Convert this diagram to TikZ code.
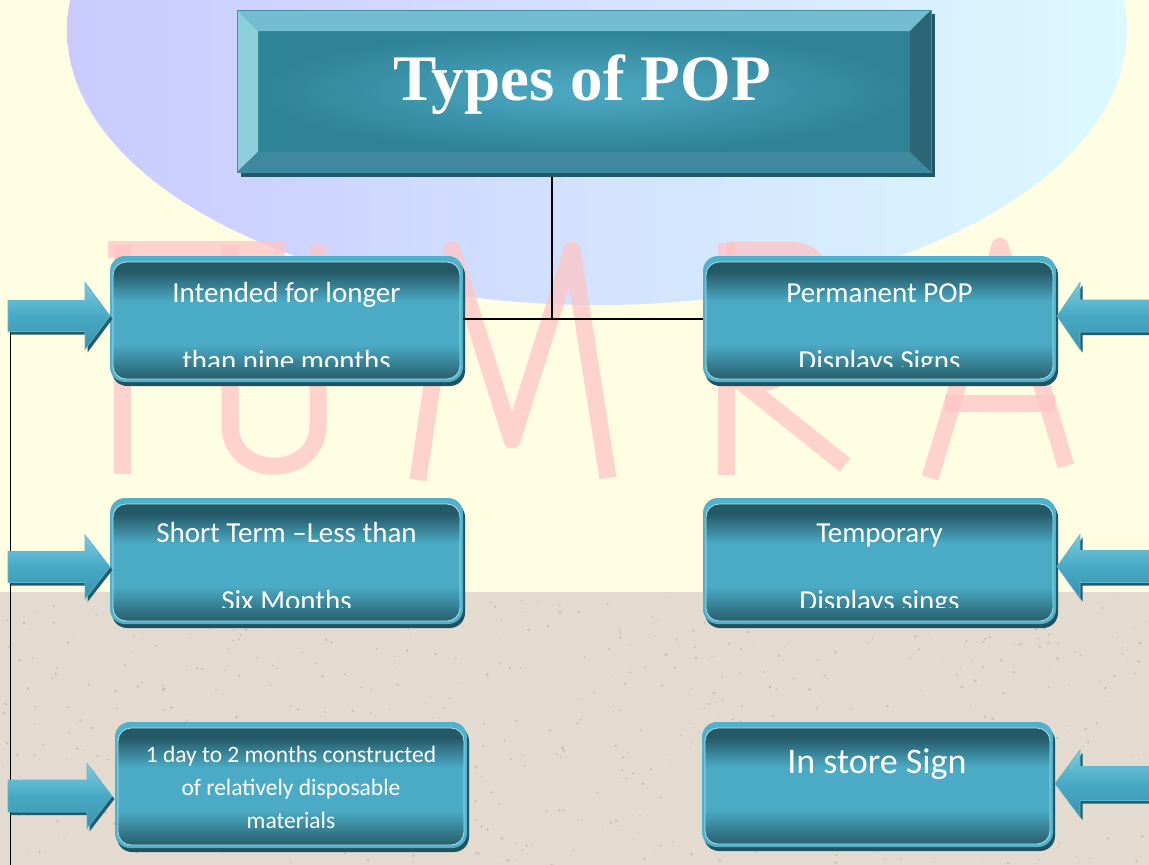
\documentclass[tikz,border=0pt]{standalone}
\usepackage{fontspec}
\setmainfont{Carlito}
\newfontfamily\titlefont{Liberation Serif}
\definecolor{bgyellow}{HTML}{FFFDE2}
\definecolor{bgbeige}{HTML}{E3DBCF}
\definecolor{speck}{HTML}{9C9282}
\definecolor{globeL}{HTML}{CACAFF}
\definecolor{globeM}{HTML}{D2E2FF}
\definecolor{globeR}{HTML}{DCF9FF}
\definecolor{wmpink}{HTML}{FFC4C4}
\definecolor{ring}{HTML}{4FB2CC}
\definecolor{ringhi}{HTML}{B5E1EC}
\definecolor{boxshadow}{HTML}{1F5361}
\definecolor{bdark}{HTML}{245967}
\definecolor{bmid}{HTML}{4BABC6}
\definecolor{bdarkb}{HTML}{285F6D}
\definecolor{arrtop}{HTML}{7CCBE0}
\definecolor{arrmid}{HTML}{48A9C4}
\definecolor{arrbot}{HTML}{3A92AB}
\definecolor{arredge}{HTML}{5CB8CF}
\definecolor{arrshadow}{HTML}{245D6C}
\definecolor{tface}{HTML}{4DAAC4}
\definecolor{tfaceout}{HTML}{2F8397}
\definecolor{tbtop}{HTML}{72BDD2}
\definecolor{tbleft}{HTML}{8ECFDC}
\definecolor{tbright}{HTML}{2C6676}
\definecolor{tbbot}{HTML}{3F899E}
\definecolor{tshadow}{HTML}{215766}
\definecolor{tedge}{HTML}{3E8FA6}
\pgfdeclareverticalshading{popbody}{100bp}{color(0bp)=(bdarkb); color(25bp)=(bdarkb); color(40bp)=(bmid); color(58bp)=(bmid); color(71bp)=(bdark); color(75bp)=(bdark); color(100bp)=(bdark)}
\tikzset{
  ringbox/.style={rectangle, rounded corners=15pt, fill=ring, inner sep=0pt, outer sep=0pt},
  boxtext/.style={text=white, font=\fontsize{29}{34}\selectfont, inner sep=0pt, anchor=base},
  smalltext/.style={text=white, font=\fontsize{23.5}{28}\selectfont, inner sep=0pt, anchor=base},
  bigtext/.style={text=white, font=\fontsize{36}{40}\selectfont, inner sep=0pt, anchor=base},
  titletext/.style={text=white, font=\titlefont\bfseries\fontsize{65}{70}\selectfont, inner sep=0pt, anchor=base},
  arrowbody/.style={top color=arrtop, bottom color=arrbot, middle color=arrmid, draw=arredge, line width=0.6pt},
  wm/.style={draw=wmpink, line width=17pt, opacity=0.75},
  conn/.style={draw=black, line width=1.6pt},
}
\newcommand\popbox[5]{%
  \fill[boxshadow, rounded corners=15pt] (#2+2,#3+4) rectangle (#4+2,#5+4);
  \node[ringbox, minimum width={(#4)-(#2)}, minimum height={(#5)-(#3)}] (#1) at ({((#2)+(#4))/2},{((#3)+(#5))/2}) {};
  \shade[shading=popbody, draw=ringhi, line width=0.8pt, rounded corners=13pt] (#2+3,#3+6) rectangle (#4-3,#5-3);
}
\newcommand\blockarrow[6]{%
  \fill[arrshadow, shift={(2.5,3)}] (#1,#4-#5) -- (#2,#4-#5) -- (#2,#4-#6) -- (#3,#4) -- (#2,#4+#6) -- (#2,#4+#5) -- (#1,#4+#5) -- cycle;
  \shade[arrowbody] (#1,#4-#5) -- (#2,#4-#5) -- (#2,#4-#6) -- (#3,#4) -- (#2,#4+#6) -- (#2,#4+#5) -- (#1,#4+#5) -- cycle;
}
\begin{document}
\begin{tikzpicture}[x=1pt,y=-1pt]
\useasboundingbox (0,0) rectangle (1149,865);
\clip (0,0) rectangle (1149,865);
% background
\fill[bgyellow] (0,0) rectangle (1149,865);
\shade[left color=globeL, right color=globeR, middle color=globeM] (597,30) ellipse [x radius=530, y radius=275];
% watermark letters
\draw[wm] (108,249) -- (285,249);
\draw[wm] (122,245) -- (122,474);
\draw[wm] (230,245) -- (230,425) .. controls (230,480) and (318,480) .. (318,425) -- (318,245);
\draw[wm, line join=round] (418,480) -- (452,250) -- (512,440) -- (572,250) -- (608,478);
\draw[wm] (726,243) -- (726,475);
\draw[wm] (726,250) -- (790,250) .. controls (850,250) and (850,380) .. (745,385) -- (845,465);
\draw[wm, line join=round] (930,478) -- (1000,246) -- (1066,466);
\draw[wm] (945,403) -- (1055,403);
% beige floor
\fill[bgbeige] (0,592) rectangle (1149,865);
\pgfmathsetseed{4242}
\foreach \k in {1,...,600}{%
  \pgfmathsetmacro\sx{rnd*1149}\pgfmathsetmacro\sy{594+rnd*271}\pgfmathsetmacro\sr{0.5+rnd*1.1}%
  \fill[speck, opacity=0.35] (\sx,\sy) circle (\sr pt);}
% title box
\fill[tshadow] (241,14) rectangle (935,177);
\shade[inner color=tface, outer color=tfaceout] (258,31) rectangle (910,152);
\fill[tbtop] (237,10) -- (931,10) -- (910,31) -- (258,31) -- cycle;
\fill[tbleft] (237,10) -- (258,31) -- (258,152) -- (237,172) -- cycle;
\fill[tbright] (931,10) -- (931,172) -- (910,152) -- (910,31) -- cycle;
\fill[tbbot] (237,172) -- (258,152) -- (910,152) -- (931,172) -- cycle;
\draw[tedge, line width=0.8pt] (237,10) rectangle (931,172);
\node[titletext] (title) at (582,100) {Types of POP};
\coordinate (tbottom) at (552,177);
% boxes
\popbox{l1}{110}{256}{463}{382}
\popbox{r1}{703}{256}{1056}{382}
\popbox{l2}{110}{498}{463}{624}
\popbox{r2}{703}{498}{1056}{624}
\popbox{l3}{115}{722}{467}{848}
\popbox{r3}{702}{722}{1053}{847}
\node[boxtext] (l1a) at (286.5,302) {Intended for longer};
\node[boxtext] (r1a) at (879.5,302) {Permanent POP};
\node[boxtext] (l2a) at (286.5,542) {Short Term –Less than};
\node[boxtext] (r2a) at (879.5,542.5) {Temporary};
\begin{scope}
\clip (100,250) rectangle (1060,366.5);
\node[boxtext] (l1b) at (286.5,370) {than nine months};
\node[boxtext] (r1b) at (879.5,370) {Displays Signs};
\end{scope}
\begin{scope}
\clip (100,490) rectangle (1060,607.5);
\node[boxtext] (l2b) at (286.5,610.5) {Six Months};
\node[boxtext] (r2b) at (879.5,610.5) {Displays sings};
\end{scope}
\node[smalltext] (l3a) at (291,762) {1 day to 2 months constructed};
\node[smalltext] (l3b) at (291,795) {of relatively disposable};
\node[smalltext] (l3c) at (291,828) {materials};
\node[bigtext] (r3a) at (877,773) {In store Sign};
% connectors
\draw[conn] (tbottom) -- (tbottom |- l1.east);
\draw[conn] (l1.east) -- (r1.west);
\coordinate (ltop) at (10.5,320);
\coordinate (lbot) at (10.5,870);
\draw[conn] (ltop) -- (lbot);
% block arrows
\blockarrow{8}{85}{110}{316}{15.5}{33.5}
\blockarrow{8}{85}{110}{567}{15.5}{32}
\blockarrow{8}{87}{112}{796}{16}{32.5}
\blockarrow{1160}{1080}{1057}{316}{16}{33.5}
\blockarrow{1160}{1080}{1057}{566.5}{16}{32}
\blockarrow{1160}{1080}{1055}{783.5}{17}{33.5}
\end{tikzpicture}
\end{document}
